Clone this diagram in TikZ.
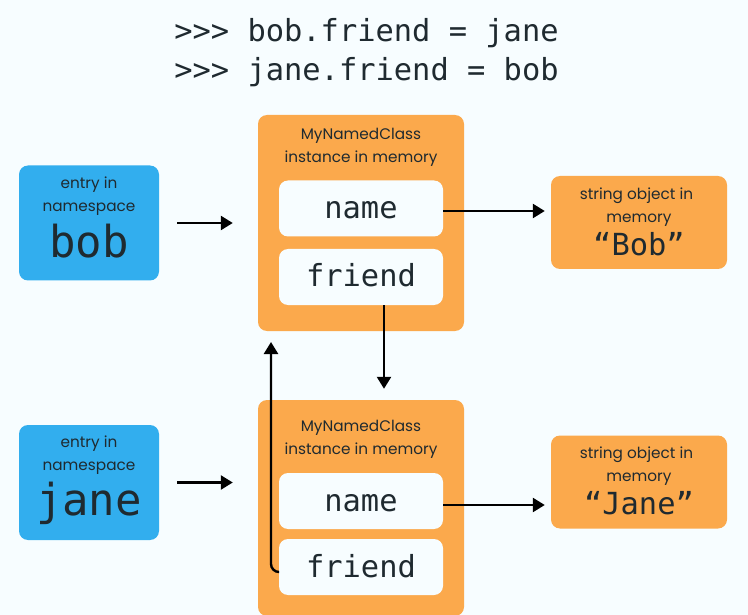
\documentclass[tikz,border=0pt]{standalone}
\usepackage{fontspec}
\setmainfont{Poppins}
\newfontfamily\codefont{DejaVu Sans Mono}
\usepackage{xcolor}
\usetikzlibrary{arrows.meta}
\definecolor{pagebg}{HTML}{F7FDFF}
\definecolor{boxorange}{HTML}{FBA94C}
\definecolor{boxblue}{HTML}{32AEEE}
\definecolor{inktext}{HTML}{1F2A30}
\newcommand{\smalltext}{\fontsize{15.3}{23}\selectfont}
\newcommand{\codetext}{\codefont\fontsize{30.4}{39}\selectfont}
\newcommand{\bigcode}{\codefont\fontsize{44}{44}\selectfont}
\newcommand{\lastpad}[1]{\rule[-#1]{0pt}{#1}}
\tikzset{
    >={Triangle[length=12pt,width=14pt]},
    conn/.style={draw=black, line width=2.4pt, ->},
    card/.style={shape=rectangle, rounded corners=9pt, text=inktext, align=center, inner sep=0pt, font=\smalltext},
    entrybox/.style={card, fill=boxblue, minimum width=140pt, minimum height=115pt},
    objbox/.style={card, fill=boxorange, minimum width=176pt, minimum height=93pt},
    instbox/.style={card, fill=boxorange, minimum width=206pt, minimum height=216pt},
    slotbox/.style={card, fill=pagebg, minimum width=164pt, minimum height=56pt, font=\codetext, text height=20pt, text depth=0pt},
    caption/.style={text=inktext, align=center, inner sep=0pt, font=\smalltext}}

\begin{document}
\begin{tikzpicture}[x=1pt, y=-1pt]

    \fill[pagebg] (0,0) rectangle (748,615);
    \useasboundingbox (0,0) rectangle (748,615);

    \node[text=inktext, align=left, inner sep=0pt, font=\codetext] (prompt) at (366.5,53) {>>> bob.friend = jane\\>>> jane.friend = bob};

    \node[entrybox] (bobEntry) at (89,223) {entry in\\namespace\\[7pt]\bigcode bob\lastpad{12pt}};
    \node[entrybox] (janeEntry) at (89,482.5) {entry in\\namespace\\[7pt]\bigcode jane\lastpad{14pt}};

    \node[instbox] (bobInst) at (361,223) {};
    \node[caption] (bobCaption) at (361,147) {MyNamedClass\\instance in memory};
    \node[slotbox] (bobName) at (361,208.5) {name};
    \node[slotbox] (bobFriend) at (361,277) {friend};

    \node[instbox] (janeInst) at (361,508) {};
    \node[caption] (janeCaption) at (361,439) {MyNamedClass\\instance in memory};
    \node[slotbox] (janeName) at (361,501) {name};
    \node[slotbox] (janeFriend) at (361,567) {friend};

    \node[objbox] (bobStr) at (639,222.5) {string object in\hspace*{5pt}\\memory\hspace*{5pt}\\[5pt]\codetext “Bob”\lastpad{2pt}};
    \node[objbox] (janeStr) at (639,482) {string object in\hspace*{5pt}\\memory\hspace*{5pt}\\[5pt]\codetext “Jane”\lastpad{2pt}};

    \coordinate (backTip) at (271,342);

    \draw[conn, shorten <=18pt, shorten >=25pt] (bobEntry.east) -- (bobInst.west);
    \draw[conn, shorten <=18pt, shorten >=25pt] (janeEntry.east) -- (janeEntry.east -| janeInst.west);
    \draw[conn, shorten >=6pt] ([yshift=-2.5pt]bobName.east) -- ([yshift=-2.5pt]bobName.east -| bobStr.west);
    \draw[conn, shorten >=6pt] ([yshift=-4pt]janeName.east) -- ([yshift=-4pt]janeName.east -| janeStr.west);
    \draw[conn, shorten >=11pt] ([xshift=23pt]bobFriend.south) -- ([xshift=23pt]bobFriend.south |- janeInst.north);
    \draw[conn, rounded corners=8pt] ([yshift=-5pt]janeFriend.west) -| (backTip);

\end{tikzpicture}
\end{document}
